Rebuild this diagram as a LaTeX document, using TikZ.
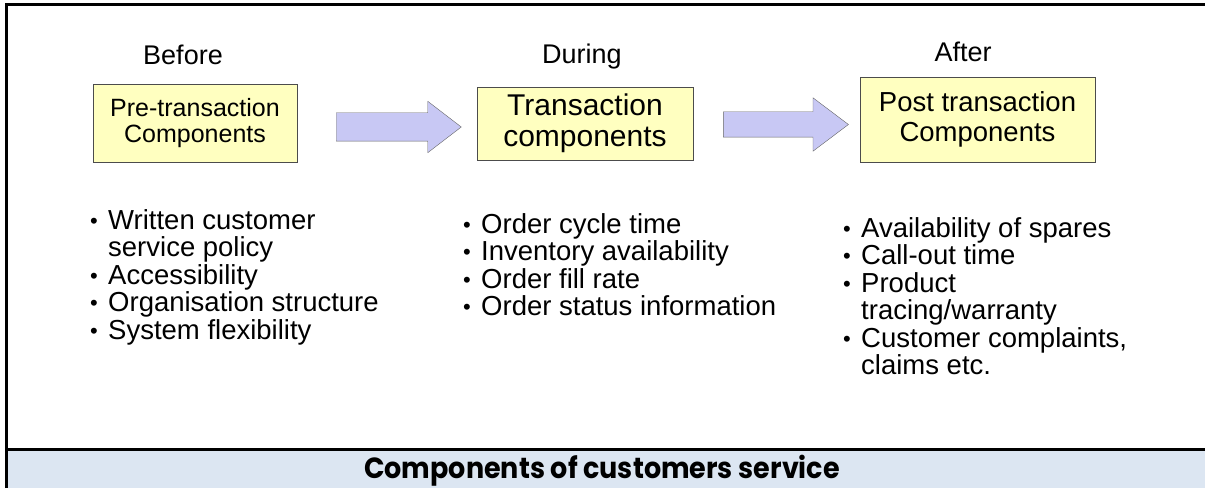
\documentclass[tikz,border=0pt]{standalone}
\usepackage{fontspec}
\setmainfont{Liberation Sans}
\newfontfamily\capfont{Poppins}
\usepackage{tikz}
\usetikzlibrary{positioning,shapes.arrows}

\definecolor{boxyellow}{HTML}{FFFFC0}
\definecolor{arrowblue}{HTML}{C8C8F4}
\definecolor{bandblue}{HTML}{DCE6F2}
\newcommand{\bul}{\makebox[18pt][l]{\raisebox{1pt}{\scalebox{0.8}{\textbullet}}}}
\newcommand{\ind}{\hspace*{18pt}}

\begin{document}
\begin{tikzpicture}[x=1pt,y=1pt]
\tikzstyle{phase}=[draw=black!70, fill=boxyellow, align=center, inner sep=0pt]
\tikzstyle{stage}=[font=\fontsize{27}{27}\selectfont, inner sep=0pt]
\tikzstyle{fat}=[single arrow, draw=black!60, fill=arrowblue, minimum height=125pt,
  text depth=0pt, single arrow head indent=0pt, inner sep=0pt]
\tikzstyle{bullets}=[align=left, inner sep=0pt, font=\fontsize{27.5}{27.5}\selectfont]
\useasboundingbox (0,0) rectangle (1205,488);

% frame and caption band
\fill[bandblue] (5,0) rectangle (1205,38);
\draw[line width=3pt] (6,0) -- (6,483) -- (1205,483);
\draw[line width=3pt] (6,39) -- (1205,39);

% phase boxes
\node[phase, minimum width=204pt, minimum height=78pt, font=\fontsize{25}{26}\selectfont] (pre) at (195,365) {Pre-transaction\\Components};
\node[phase, minimum width=216pt, minimum height=73pt, font=\fontsize{30}{31}\selectfont] (trans) at (585,364.5) {Transaction\\components};
\node[phase, minimum width=235pt, minimum height=85pt, font=\fontsize{27.5}{30}\selectfont] (post) at (977.5,368.5) {Post transaction\\Components};

\node[stage] (before) at (183,433) {Before};
\node[stage] (during) at (582,431) {During};
\node[stage] (after) at (963,436) {After};

% arrows between the boxes
\node[fat, text height=28pt, single arrow head extend=11.5pt, single arrow tip angle=75] (arrA) at (389.5,361) {};
\node[fat, text height=25pt, single arrow head extend=14pt, single arrow tip angle=74] (arrB) at (777.5,363.5) {};

% bullet lists
\node[bullets, anchor=north west] (prelist) at (90,279) {\bul Written customer\\\ind service policy\\\bul Accessibility\\\bul Organisation structure\\\bul System flexibility};
\node[bullets, anchor=north west] (translist) at (463,275) {\bul Order cycle time\\\bul Inventory availability\\\bul Order fill rate\\\bul Order status information};
\node[bullets, anchor=north west] (postlist) at (843,271) {\bul Availability of spares\\\bul Call-out time\\\bul Product\\\ind tracing/warranty\\\bul Customer complaints,\\\ind claims etc.};

% caption
\node[font=\capfont\bfseries\fontsize{27}{27}\selectfont, inner sep=0pt, anchor=base] (title) at (602,10) {\scalebox{1}[1.08]{Components of customers service}};
\end{tikzpicture}
\end{document}
